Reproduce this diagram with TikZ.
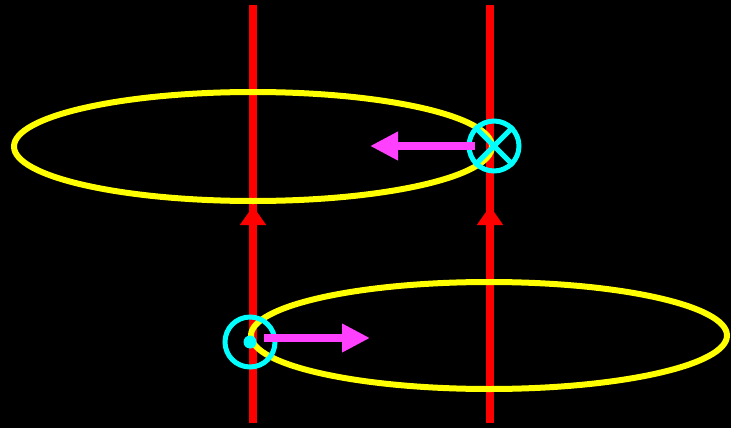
\documentclass[tikz,border=0pt]{standalone}
\usepackage{tikz}
\usetikzlibrary{arrows.meta, shapes.geometric}
\definecolor{wirered}{RGB}{255,0,0}
\definecolor{loopyellow}{RGB}{255,255,0}
\definecolor{fieldcyan}{RGB}{0,255,255}
\definecolor{forcepink}{RGB}{255,64,255}
\tikzset{
    wire/.style={draw=wirered, line width=8pt},
    current/.style={wirered, line width=8pt, -{Triangle[length=19pt, width=25pt]}},
    loop/.style={ellipse, draw=loopyellow, line width=6pt, inner sep=0pt},
    fieldring/.style={circle, draw=fieldcyan, line width=5pt, minimum size=50pt, inner sep=0pt},
    fielddot/.style={circle, fill=fieldcyan, minimum size=13pt, inner sep=0pt},
    force/.style={forcepink, line width=8pt, -{Triangle[length=28pt, width=27pt]}}
}
\begin{document}
\begin{tikzpicture}[x=1pt, y=-1pt]
    \fill[black] (0,0) rectangle (731,428);
    \useasboundingbox (0,0) rectangle (731,428);

    % wires
    \coordinate (wireAtop) at (253,5);
    \coordinate (wireAbot) at (253,423);
    \coordinate (wireAmid) at (253,206);
    \coordinate (wireBtop) at (490,5);
    \coordinate (wireBbot) at (490,423);
    \coordinate (wireBmid) at (490,206);
    \draw [wire] (wireAbot) -- (wireAtop);
    \draw [wire] (wireBbot) -- (wireBtop);
    \draw [current] (wireAbot) -- (wireAmid);
    \draw [current] (wireBbot) -- (wireBmid);

    % field loops
    \node (loopA) [loop, minimum width=478pt, minimum height=109pt] at (253,146.5) {};
    \node (loopB) [loop, minimum width=476pt, minimum height=107pt] at (489,335.5) {};

    % field at the other wire
    \node (into) [fieldring] at (494,146) {};
    \draw [fieldcyan, line width=5pt] (into.north west) -- (into.south east);
    \draw [fieldcyan, line width=5pt] (into.north east) -- (into.south west);
    \node (outof) [fieldring] at (250,342) {};
    \node (outdot) [fielddot] at (250,342) {};

    % forces
    \coordinate (forceAstart) at (475,146);
    \coordinate (forceAend) at (370,146);
    \coordinate (forceBstart) at (264,338);
    \coordinate (forceBend) at (370,338);
    \draw [force] (forceAstart) -- (forceAend);
    \draw [force] (forceBstart) -- (forceBend);
\end{tikzpicture}
\end{document}
